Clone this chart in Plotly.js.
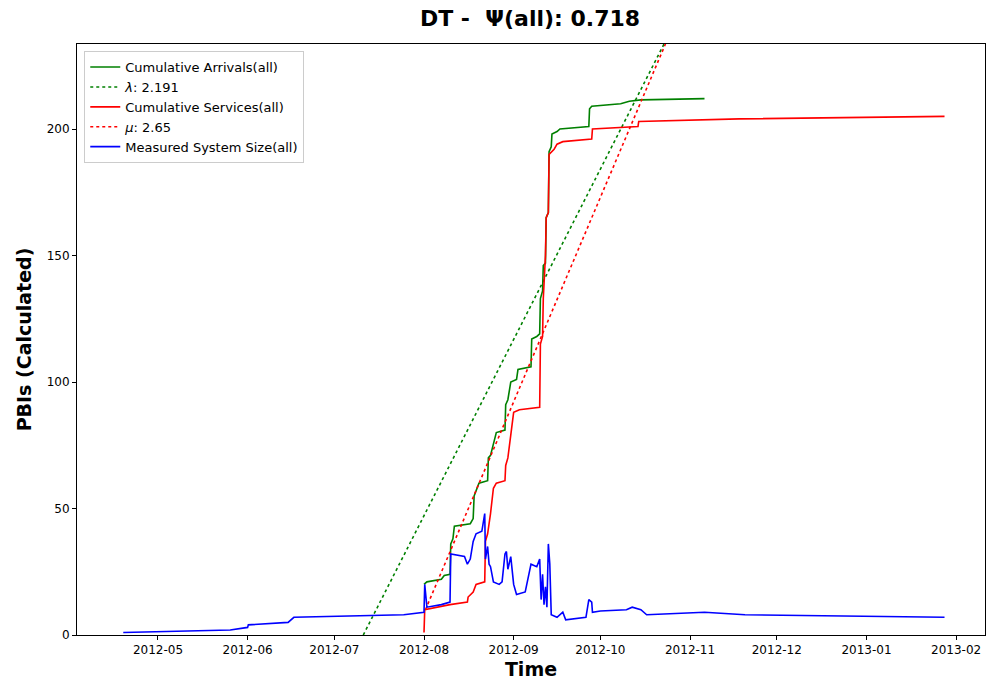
<!DOCTYPE html>
<html><head><meta charset="utf-8">
<script src="https://cdn.plot.ly/plotly-3.0.1.min.js"></script>
<style>body{margin:0}#plot{width:1000px;height:700px}</style>
</head><body><div id="plot"></div>
<script>
// Cumulative arrivals (step-like)
const arrDates = ['2012-08-01','2012-08-02','2012-08-07','2012-08-08','2012-08-10','2012-08-10 06:00','2012-08-11','2012-08-11 12:00','2012-08-17','2012-08-18','2012-08-18 08:00','2012-08-19','2012-08-20','2012-08-23','2012-08-23 06:00','2012-08-24','2012-08-25','2012-08-26','2012-08-29','2012-08-29 06:00','2012-08-30','2012-08-31','2012-09-02','2012-09-02 12:00','2012-09-07','2012-09-07 06:00','2012-09-09','2012-09-10','2012-09-10 06:00','2012-09-11','2012-09-11 06:00','2012-09-12','2012-09-12 06:00','2012-09-13','2012-09-13 06:00','2012-09-14','2012-09-14 06:00','2012-09-16','2012-09-17','2012-09-27','2012-09-27 06:00','2012-09-28','2012-10-08','2012-10-11','2012-10-15','2012-11-06'];
const arrVals = [20,21,22,23.5,24,36,38,43,44,46,55,57,60,61,70,71,76,80,81,91,93,100,101,105,106,117,118,119,133,136,146,147,165,167,191,193,198,199,200,201,208,209,210,211,211.5,212];

// Cumulative services
const svcDates = ['2012-08-01','2012-08-01 06:00','2012-08-10','2012-08-16','2012-08-16 06:00','2012-08-18','2012-08-19','2012-08-22','2012-08-22 06:00','2012-08-23','2012-08-24','2012-08-25','2012-08-26','2012-08-29','2012-08-29 06:00','2012-08-30','2012-08-31','2012-09-01','2012-09-03','2012-09-10','2012-09-10 06:00','2012-09-11','2012-09-11 06:00','2012-09-12','2012-09-12 06:00','2012-09-13','2012-09-13 06:00','2012-09-15','2012-09-16','2012-09-18','2012-09-28','2012-09-28 06:00','2012-10-14','2012-10-14 06:00','2012-11-18','2013-01-28'];
const svcVals = [1,10,12,13,15,17,20,21,37,40,48,58,60,61,67,70,79,88,89,90,115,118,133,150,165,167,190,192,194,195,196,200,201,203,204,205];

// Measured system size
const sysDates = ['2012-04-19','2012-05-26','2012-06-01','2012-06-01 06:00','2012-06-15','2012-06-17','2012-07-25','2012-08-01','2012-08-01 06:00','2012-08-02','2012-08-07','2012-08-10','2012-08-10 06:00','2012-08-15','2012-08-16','2012-08-17','2012-08-18','2012-08-19','2012-08-21','2012-08-22','2012-08-22 06:00','2012-08-23','2012-08-23 12:00','2012-08-24','2012-08-25','2012-08-27','2012-08-28','2012-08-29','2012-08-29 12:00','2012-08-30','2012-08-31','2012-09-01','2012-09-02','2012-09-05','2012-09-07','2012-09-09','2012-09-10','2012-09-10 12:00','2012-09-11','2012-09-11 12:00','2012-09-12','2012-09-12 12:00','2012-09-13','2012-09-13 12:00','2012-09-14','2012-09-16','2012-09-18','2012-09-19','2012-09-26','2012-09-27','2012-09-28','2012-09-28 06:00','2012-10-01','2012-10-10','2012-10-12','2012-10-15','2012-10-17','2012-11-06','2012-11-20','2013-01-28'];
const sysVals = [1,2,3,4,5,7,8,9,20,11,12,13,32,31,28,30,37,40,41,48,30,35,28,27,21,20,21,32,33,26,31,20,16,17,28,27,30,14,24,12,19,11,36,28,8,7,9,6,7,14,13,9,9.5,10,11,10,8,9,8,7];

// Fitted rate lines (endpoints)
const lamDates = ['2012-07-11','2012-10-23'];
const lamVals = [0, 233.6];
const muDates = ['2012-08-01 12:00','2012-10-23 12:00'];
const muVals = [10, 233.6];

const traces = [
  {type:'scatter',mode:'lines',x:arrDates,y:arrVals,line:{color:'green',width:1.6,shape:'linear'},name:'Cumulative Arrivals(all)'},
  {type:'scatter',mode:'lines',x:lamDates,y:lamVals,line:{color:'green',width:1.6,dash:'dot'},name:'<i>λ</i>: 2.191'},
  {type:'scatter',mode:'lines',x:svcDates,y:svcVals,line:{color:'red',width:1.6},name:'Cumulative Services(all)'},
  {type:'scatter',mode:'lines',x:muDates,y:muVals,line:{color:'red',width:1.6,dash:'dot'},name:'<i>μ</i>: 2.65'},
  {type:'scatter',mode:'lines',x:sysDates,y:sysVals,line:{color:'blue',width:1.6},name:'Measured System Size(all)'}
];

const axis = {showline:true,linecolor:'black',mirror:true,ticks:'outside',ticklen:4,tickcolor:'black',
  showgrid:false,zeroline:false,tickfont:{size:12,color:'black'}};

const layout = {
  width:1000,height:700,
  paper_bgcolor:'white',plot_bgcolor:'white',
  font:{family:'DejaVu Sans',color:'black'},
  margin:{l:77,r:15,t:44,b:65},
  title:{text:'<b>DT -  Ψ(all): 0.718</b>',font:{size:22},x:0.53,xanchor:'center',y:0.985,yanchor:'top'},
  xaxis:Object.assign({},axis,{type:'date',range:['2012-04-03','2013-02-11'],dtick:'M1',tick0:'2012-05-01',tickformat:'%Y-%m',
    title:{text:'<b>Time</b>',font:{size:19},standoff:6}}),
  yaxis:Object.assign({},axis,{range:[0,233.6],tickvals:[0,50,100,150,200],
    title:{text:'<b>PBIs (Calculated)</b>',font:{size:19},standoff:10}}),
  showlegend:true,
  legend:{x:0.008,y:0.988,xanchor:'left',yanchor:'top',bgcolor:'white',bordercolor:'#cccccc',borderwidth:1,
    font:{size:13},tracegroupgap:0}
};
Plotly.newPlot('plot',traces,layout,{displayModeBar:false});
</script></body></html>
